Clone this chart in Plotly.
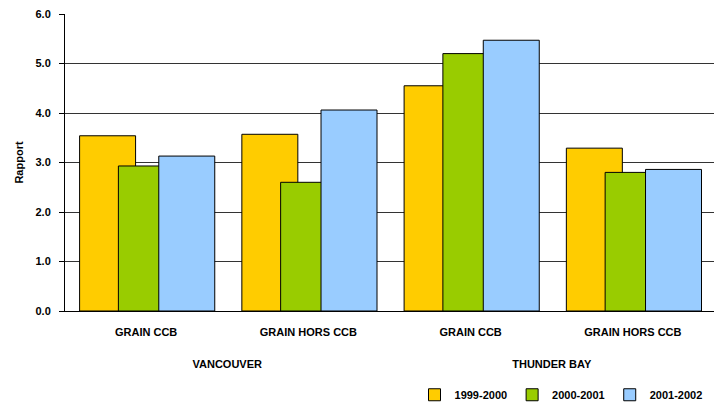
import plotly.graph_objects as go

ports = ["VANCOUVER", "VANCOUVER", "THUNDER BAY", "THUNDER BAY"]
grains = ["GRAIN CCB", "GRAIN HORS CCB", "GRAIN CCB", "GRAIN HORS CCB"]
series_names = ["1999-2000", "2000-2001", "2001-2002"]
v_1999 = [3.54, 3.57, 4.55, 3.29]
v_2000 = [2.93, 2.60, 5.20, 2.80]
v_2001 = [3.13, 4.06, 5.47, 2.86]
y_ticks = [0, 1, 2, 3, 4, 5, 6]

colors = ["#FFCC00", "#99CC00", "#99CCFF"]
offsets = [-0.41, -0.171, 0.078]
width = 0.345

FAM = "Liberation Sans, Arial, sans-serif"

# leading line breaks push the outer (port) labels down, as in the reference
outer = ["<br><br>" + p for p in ports]

fig = go.Figure()
for name, vals, col, off in zip(series_names, [v_1999, v_2000, v_2001], colors, offsets):
    fig.add_trace(go.Bar(
        x=[outer, grains], y=vals, name=name,
        marker=dict(color=col, line=dict(color="black", width=1)),
        offset=off, width=width,
    ))

bold11 = dict(family=FAM, size=11, color="black", weight="bold")
fig.update_layout(
    barmode="overlay",
    width=718, height=402,
    margin=dict(l=65, r=4, t=14, b=91),
    plot_bgcolor="white", paper_bgcolor="white",
    font=dict(family=FAM, size=11, color="black"),
    showlegend=True,
    legend=dict(orientation="h", x=0.99, xanchor="right",
                yref="container", y=0.018, yanchor="middle",
                font=bold11, itemwidth=30, traceorder="normal"),
    xaxis=dict(type="multicategory", showdividers=False, showgrid=False, ticks="",
               automargin=False, ticklabelstandoff=11,
               showline=True, linecolor="black", linewidth=1,
               tickfont=bold11),
    yaxis=dict(range=[0, 6], tickvals=y_ticks, tickformat=".1f",
               automargin=False,
               showgrid=True, gridcolor="#333333", gridwidth=1,
               showline=True, linecolor="black", linewidth=1,
               ticks="outside", ticklen=5, tickcolor="black",
               ticklabelstandoff=6,
               zeroline=False,
               tickfont=bold11,
               title=dict(text="Rapport", standoff=9, font=bold11)),
)

fig.write_html("out.html", config={"displayModeBar": False},
               post_script="document.body.style.margin='0px';")
